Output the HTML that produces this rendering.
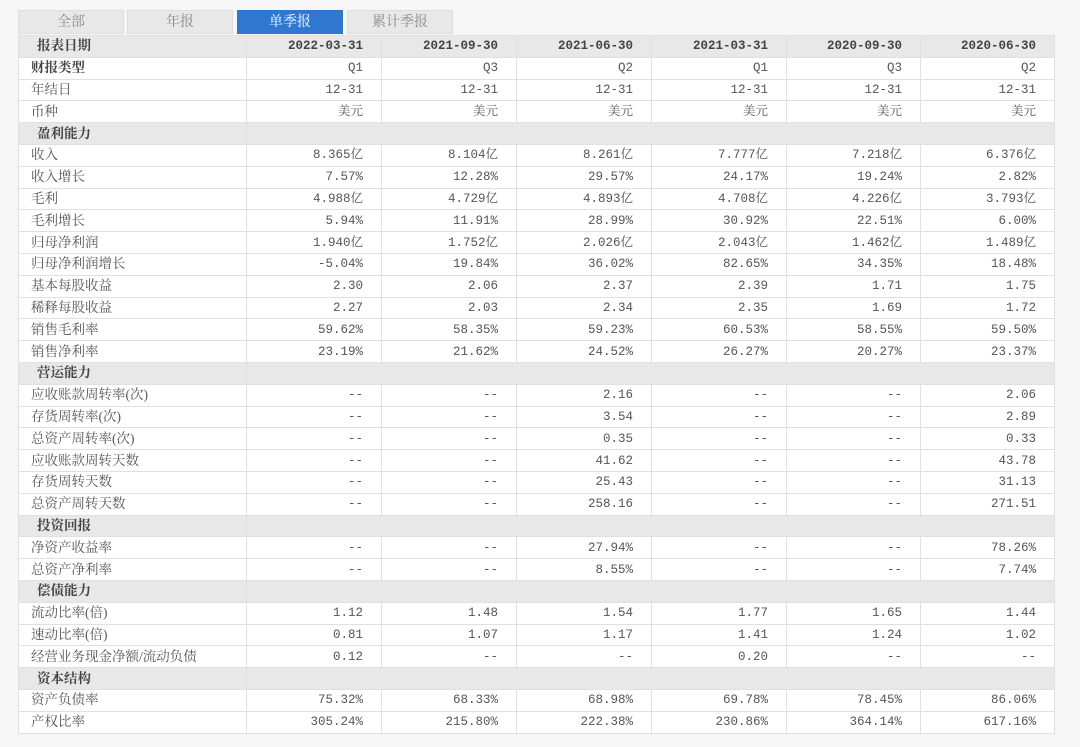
<!DOCTYPE html>
<html><head><meta charset="utf-8"><style>
body{margin:0;background:#f6f6f6;width:1080px;height:747px;overflow:hidden;font-family:"Liberation Serif","Noto Serif CJK SC",serif;font-size:13px;color:#555}
.tabs{position:absolute;top:10px;left:18px;height:24px}
.tab{position:absolute;top:0;width:106px;height:24px;background:#e8e8e8;border:1px solid #ddd;box-sizing:border-box;text-align:center;line-height:23px;color:#888;font-size:14px}
.tab.a{background:#3077d0;color:#fff;border-color:#3077d0}
table{position:absolute;top:35px;left:18px;border-collapse:collapse;width:1036px;table-layout:fixed;background:#fff}
td{height:20.8px;padding:0 18px 0 0;border:1px solid #e0e0e0;text-align:right;white-space:nowrap;line-height:20px;font-family:"Liberation Mono","Noto Serif CJK SC",monospace;font-size:12.5px}
td:first-child{text-align:left;padding:0 0 0 12px;font-family:"Liberation Serif","Noto Serif CJK SC",serif;font-size:13.5px}
tr.h td{background:#e8e8e8;font-weight:bold;color:#444}
tr.h td:first-child{padding-left:18px}
tr.b td:first-child{font-weight:bold;color:#444}
</style></head><body>
<div class="tabs">
<div class="tab" style="left:0">全部</div>
<div class="tab" style="left:109px">年报</div>
<div class="tab a" style="left:219px">单季报</div>
<div class="tab" style="left:329px">累计季报</div>
</div>
<table>
<colgroup><col style="width:228px"><col style="width:135px"><col style="width:135px"><col style="width:135px"><col style="width:135px"><col style="width:134px"><col style="width:134px"></colgroup>
<tr class="h"><td>报表日期</td><td>2022-03-31</td><td>2021-09-30</td><td>2021-06-30</td><td>2021-03-31</td><td>2020-09-30</td><td>2020-06-30</td></tr>
<tr class="b"><td>财报类型</td><td>Q1</td><td>Q3</td><td>Q2</td><td>Q1</td><td>Q3</td><td>Q2</td></tr>
<tr><td>年结日</td><td>12-31</td><td>12-31</td><td>12-31</td><td>12-31</td><td>12-31</td><td>12-31</td></tr>
<tr><td>币种</td><td>美元</td><td>美元</td><td>美元</td><td>美元</td><td>美元</td><td>美元</td></tr>
<tr class="h"><td>盈利能力</td><td colspan="6"></td></tr>
<tr><td>收入</td><td>8.365亿</td><td>8.104亿</td><td>8.261亿</td><td>7.777亿</td><td>7.218亿</td><td>6.376亿</td></tr>
<tr><td>收入增长</td><td>7.57%</td><td>12.28%</td><td>29.57%</td><td>24.17%</td><td>19.24%</td><td>2.82%</td></tr>
<tr><td>毛利</td><td>4.988亿</td><td>4.729亿</td><td>4.893亿</td><td>4.708亿</td><td>4.226亿</td><td>3.793亿</td></tr>
<tr><td>毛利增长</td><td>5.94%</td><td>11.91%</td><td>28.99%</td><td>30.92%</td><td>22.51%</td><td>6.00%</td></tr>
<tr><td>归母净利润</td><td>1.940亿</td><td>1.752亿</td><td>2.026亿</td><td>2.043亿</td><td>1.462亿</td><td>1.489亿</td></tr>
<tr><td>归母净利润增长</td><td>-5.04%</td><td>19.84%</td><td>36.02%</td><td>82.65%</td><td>34.35%</td><td>18.48%</td></tr>
<tr><td>基本每股收益</td><td>2.30</td><td>2.06</td><td>2.37</td><td>2.39</td><td>1.71</td><td>1.75</td></tr>
<tr><td>稀释每股收益</td><td>2.27</td><td>2.03</td><td>2.34</td><td>2.35</td><td>1.69</td><td>1.72</td></tr>
<tr><td>销售毛利率</td><td>59.62%</td><td>58.35%</td><td>59.23%</td><td>60.53%</td><td>58.55%</td><td>59.50%</td></tr>
<tr><td>销售净利率</td><td>23.19%</td><td>21.62%</td><td>24.52%</td><td>26.27%</td><td>20.27%</td><td>23.37%</td></tr>
<tr class="h"><td>营运能力</td><td colspan="6"></td></tr>
<tr><td>应收账款周转率(次)</td><td>--</td><td>--</td><td>2.16</td><td>--</td><td>--</td><td>2.06</td></tr>
<tr><td>存货周转率(次)</td><td>--</td><td>--</td><td>3.54</td><td>--</td><td>--</td><td>2.89</td></tr>
<tr><td>总资产周转率(次)</td><td>--</td><td>--</td><td>0.35</td><td>--</td><td>--</td><td>0.33</td></tr>
<tr><td>应收账款周转天数</td><td>--</td><td>--</td><td>41.62</td><td>--</td><td>--</td><td>43.78</td></tr>
<tr><td>存货周转天数</td><td>--</td><td>--</td><td>25.43</td><td>--</td><td>--</td><td>31.13</td></tr>
<tr><td>总资产周转天数</td><td>--</td><td>--</td><td>258.16</td><td>--</td><td>--</td><td>271.51</td></tr>
<tr class="h"><td>投资回报</td><td colspan="6"></td></tr>
<tr><td>净资产收益率</td><td>--</td><td>--</td><td>27.94%</td><td>--</td><td>--</td><td>78.26%</td></tr>
<tr><td>总资产净利率</td><td>--</td><td>--</td><td>8.55%</td><td>--</td><td>--</td><td>7.74%</td></tr>
<tr class="h"><td>偿债能力</td><td colspan="6"></td></tr>
<tr><td>流动比率(倍)</td><td>1.12</td><td>1.48</td><td>1.54</td><td>1.77</td><td>1.65</td><td>1.44</td></tr>
<tr><td>速动比率(倍)</td><td>0.81</td><td>1.07</td><td>1.17</td><td>1.41</td><td>1.24</td><td>1.02</td></tr>
<tr><td>经营业务现金净额/流动负债</td><td>0.12</td><td>--</td><td>--</td><td>0.20</td><td>--</td><td>--</td></tr>
<tr class="h"><td>资本结构</td><td colspan="6"></td></tr>
<tr><td>资产负债率</td><td>75.32%</td><td>68.33%</td><td>68.98%</td><td>69.78%</td><td>78.45%</td><td>86.06%</td></tr>
<tr><td>产权比率</td><td>305.24%</td><td>215.80%</td><td>222.38%</td><td>230.86%</td><td>364.14%</td><td>617.16%</td></tr>
</table>
</body></html>
